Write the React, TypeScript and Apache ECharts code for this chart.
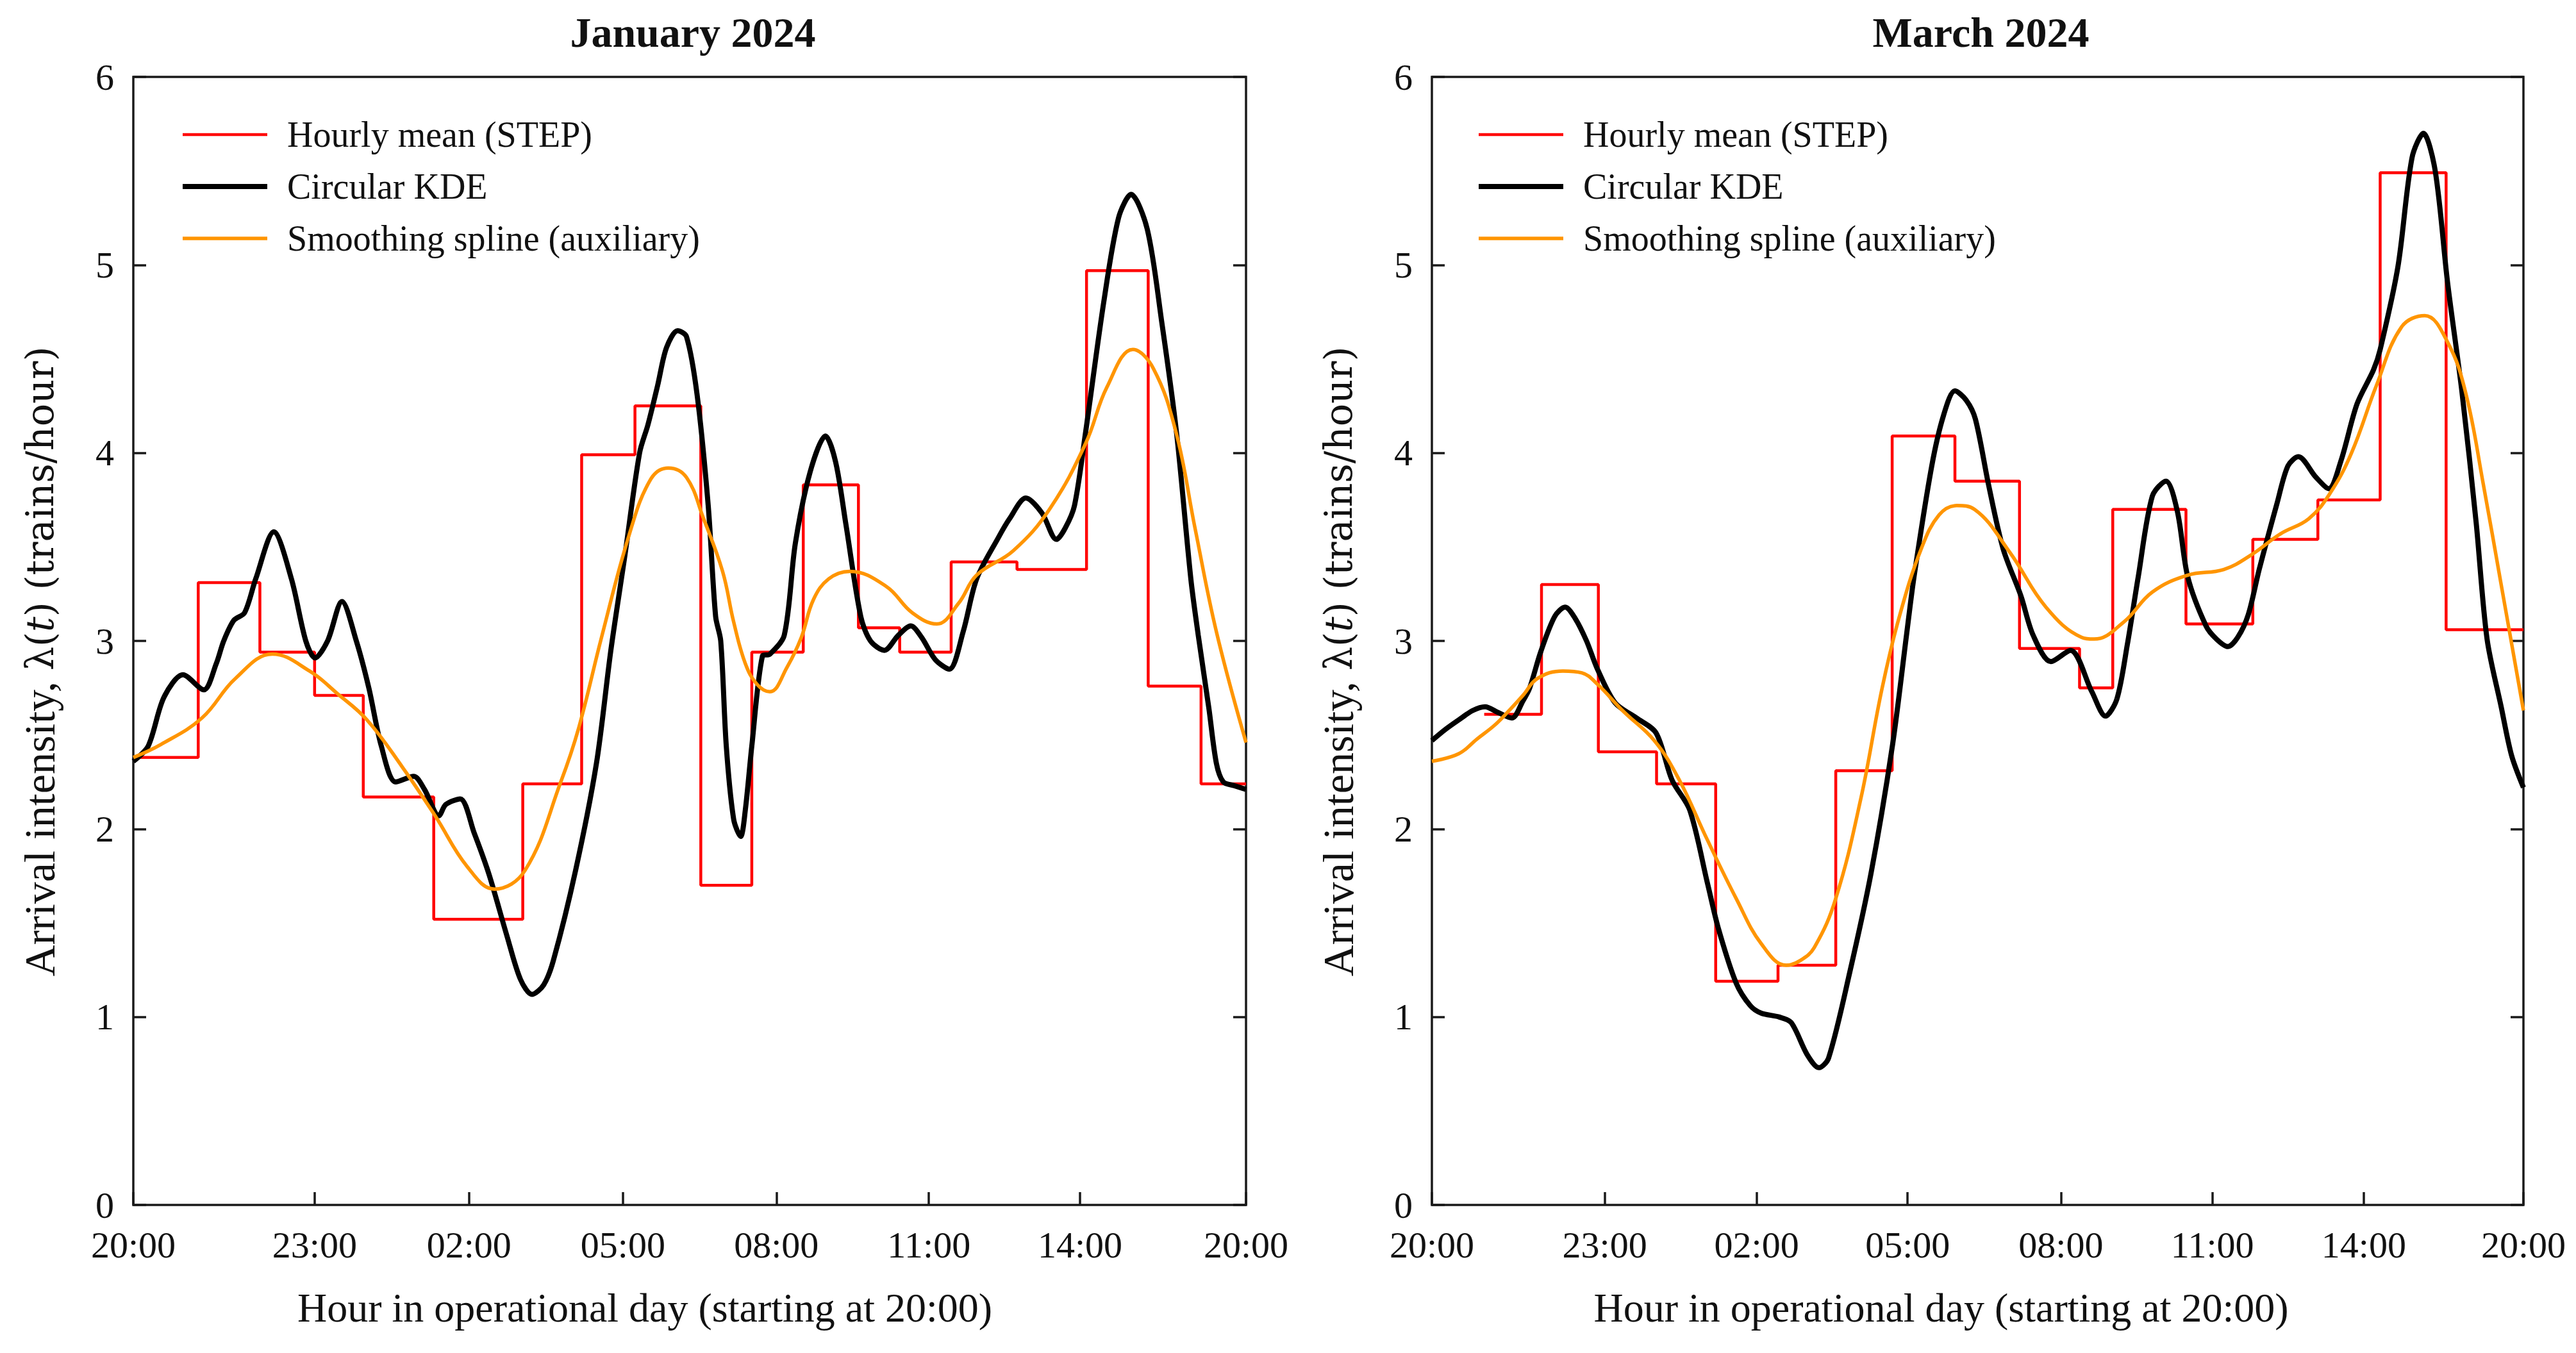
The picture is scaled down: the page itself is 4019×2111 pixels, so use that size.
import React, { useEffect, useRef } from 'react';
import * as echarts from 'echarts';

// ---------- data (hours since 20:00, arrival intensity in trains/hour) ----------
const tickLabels = ['20:00', '23:00', '02:00', '05:00', '08:00', '11:00', '14:00', '20:00'];
const janTickHours = [0, 3.91, 7.24, 10.56, 13.87, 17.16, 20.42, 24];
const marTickHours = [0, 3.8, 7.14, 10.46, 13.83, 17.16, 20.49, 24];

const janStepEdges = [0, 1.4, 2.73, 3.91, 4.96, 6.48, 8.4, 9.67, 10.82, 12.24, 13.34, 14.45, 15.64, 16.53, 17.64, 19.06, 20.56, 21.89, 23.03, 24];
const janStepValues = [2.38, 3.31, 2.94, 2.71, 2.17, 1.52, 2.24, 3.99, 4.25, 1.7, 2.94, 3.83, 3.07, 2.94, 3.42, 3.38, 4.97, 2.76, 2.24];

const janKdeHours = [0, 0.32, 0.66, 1.07, 1.52, 1.79, 1.95, 2.17, 2.4, 2.64, 3.03, 3.41, 3.72, 3.92, 4.19, 4.5, 4.81, 5.08, 5.35, 5.66, 6.05, 6.28, 6.59, 6.74, 7.05, 7.35, 7.67, 8.06, 8.35, 8.6, 8.85, 9.06, 9.54, 9.99, 10.3, 10.6, 10.92, 11.1, 11.31, 11.5, 11.74, 11.93, 12.16, 12.4, 12.56, 12.67, 12.79, 12.95, 13.1, 13.2, 13.34, 13.57, 13.73, 14.04, 14.28, 14.6, 14.93, 15.15, 15.37, 15.69, 15.9, 16.2, 16.5, 16.77, 17.0, 17.3, 17.6, 17.9, 18.19, 18.66, 18.9, 19.25, 19.6, 19.91, 20.1, 20.3, 20.54, 20.93, 21.25, 21.52, 21.87, 22.18, 22.5, 22.81, 22.97, 23.2, 23.36, 23.51, 23.75, 24];
const janKdeValues = [2.36, 2.44, 2.7, 2.82, 2.74, 2.88, 3.0, 3.11, 3.15, 3.33, 3.58, 3.33, 3.0, 2.91, 3.0, 3.21, 3.0, 2.75, 2.44, 2.25, 2.28, 2.21, 2.07, 2.13, 2.16, 1.98, 1.76, 1.43, 1.2, 1.12, 1.17, 1.3, 1.78, 2.35, 2.95, 3.45, 4.0, 4.15, 4.36, 4.56, 4.65, 4.62, 4.31, 3.72, 3.13, 3.0, 2.44, 2.05, 1.96, 2.1, 2.44, 2.92, 2.93, 3.03, 3.52, 3.9, 4.09, 3.95, 3.62, 3.13, 3.0, 2.95, 3.03, 3.08, 3.02, 2.9, 2.85, 3.05, 3.33, 3.55, 3.65, 3.76, 3.68, 3.54, 3.6, 3.72, 4.11, 4.8, 5.25, 5.375, 5.19, 4.7, 4.11, 3.33, 3.03, 2.64, 2.35, 2.25, 2.23, 2.21];

const janSplineHours = [0, 0.6, 1.48, 2.2, 3.0, 3.8, 4.4, 5.04, 5.8, 6.51, 7.2, 7.79, 8.45, 9.22, 9.61, 10.1, 10.69, 11.16, 11.54, 11.93, 12.3, 12.71, 12.95, 13.2, 13.45, 13.73, 14.1, 14.41, 14.67, 15.0, 15.45, 16.24, 16.8, 17.33, 17.8, 18.19, 18.98, 19.76, 20.54, 21.0, 21.56, 22.0, 22.49, 22.9, 23.36, 24];
const janSplineValues = [2.38, 2.45, 2.59, 2.8, 2.93, 2.84, 2.72, 2.58, 2.33, 2.07, 1.8, 1.68, 1.78, 2.25, 2.54, 3.02, 3.56, 3.86, 3.92, 3.87, 3.65, 3.37, 3.1, 2.88, 2.77, 2.73, 2.86, 3.02, 3.22, 3.33, 3.37, 3.29, 3.15, 3.09, 3.2, 3.35, 3.48, 3.7, 4.05, 4.35, 4.55, 4.45, 4.11, 3.6, 3.05, 2.46];

const marStepEdges = [1.15, 2.41, 3.66, 4.94, 6.24, 7.61, 8.88, 10.12, 11.5, 12.92, 14.24, 14.97, 16.58, 18.05, 19.48, 20.85, 22.3, 24];
const marStepValues = [2.61, 3.3, 2.41, 2.24, 1.19, 1.275, 2.31, 4.09, 3.85, 2.96, 2.75, 3.7, 3.09, 3.54, 3.75, 5.49, 3.06];

const marKdeHours = [0, 0.3, 0.59, 0.9, 1.17, 1.45, 1.76, 2.0, 2.15, 2.39, 2.7, 2.93, 3.15, 3.4, 3.64, 4.03, 4.5, 4.93, 5.28, 5.67, 6.06, 6.3, 6.69, 7.0, 7.24, 7.63, 7.9, 8.25, 8.51, 8.72, 9.19, 9.66, 10.13, 10.44, 10.6, 10.99, 11.25, 11.5, 11.75, 11.95, 12.24, 12.56, 12.95, 13.22, 13.61, 14.04, 14.51, 14.81, 15.06, 15.29, 15.53, 15.84, 16.14, 16.39, 16.62, 17.02, 17.25, 17.5, 17.72, 17.95, 18.19, 18.58, 18.82, 19.05, 19.44, 19.72, 19.99, 20.34, 20.7, 20.85, 21.24, 21.55, 21.8, 22.06, 22.33, 22.65, 22.96, 23.2, 23.51, 23.74, 24];
const marKdeValues = [2.47, 2.53, 2.58, 2.63, 2.65, 2.62, 2.59, 2.68, 2.75, 2.94, 3.13, 3.18, 3.12, 3.0, 2.85, 2.67, 2.59, 2.51, 2.26, 2.1, 1.71, 1.47, 1.18, 1.06, 1.02, 1.0, 0.97, 0.8, 0.73, 0.78, 1.24, 1.77, 2.45, 3.04, 3.34, 3.93, 4.2, 4.33, 4.28, 4.18, 3.83, 3.49, 3.24, 3.03, 2.89, 2.95, 2.73, 2.6, 2.69, 2.98, 3.34, 3.77, 3.85, 3.69, 3.34, 3.08, 3.01, 2.97, 3.02, 3.14, 3.38, 3.73, 3.93, 3.98, 3.87, 3.81, 3.96, 4.26, 4.44, 4.55, 4.99, 5.57, 5.7, 5.5, 4.91, 4.32, 3.63, 3.01, 2.65, 2.39, 2.22];

const marSplineHours = [0, 0.59, 1.0, 1.37, 1.66, 2.0, 2.32, 2.88, 3.3, 3.64, 4.19, 4.89, 5.44, 6.06, 6.69, 7.24, 7.79, 8.1, 8.41, 8.88, 9.43, 9.9, 10.29, 10.76, 11.15, 11.54, 11.93, 12.71, 13.5, 14.28, 14.56, 15.21, 15.84, 16.62, 17.41, 18.03, 18.66, 19.28, 19.76, 20.22, 20.77, 21.32, 21.83, 22.33, 22.73, 23.12, 23.51, 24];
const marSplineValues = [2.36, 2.4, 2.48, 2.55, 2.62, 2.71, 2.8, 2.84, 2.83, 2.77, 2.63, 2.47, 2.26, 1.94, 1.63, 1.39, 1.275, 1.3, 1.37, 1.63, 2.16, 2.75, 3.14, 3.49, 3.67, 3.72, 3.7, 3.47, 3.18, 3.02, 3.01, 3.1, 3.26, 3.35, 3.38, 3.46, 3.57, 3.65, 3.79, 4.0, 4.36, 4.67, 4.73, 4.59, 4.32, 3.83, 3.3, 2.63];

const panelTitles = ['January 2024', 'March 2024'];
const seriesNames = ['Hourly mean (STEP)', 'Circular KDE', 'Smoothing spline (auxiliary)'];

// ---------- helpers ----------
const zip = (xs: number[], ys: number[]) => xs.map((x, i) => [x, ys[i]]);
const stepData = (edges: number[], values: number[]) =>
  edges.map((e, i) => [e, values[Math.min(i, values.length - 1)]]);

const SERIF = "'Liberation Serif', 'Times New Roman', serif";
const TEXT = '#111';
const FRAME = '#1a1a1a';
const COLORS = ['#ff0000', '#000000', '#ff9500'];
const WIDTHS = [4.5, 8, 5.5];

const GRIDS = [
  { left: 208, top: 120, width: 1736, height: 1760 },
  { left: 2234, top: 120, width: 1703, height: 1760 },
];

function buildOption() {
  const ticksPerPanel = [janTickHours, marTickHours];
  const namePad = [140, 114];
  const legendLeft = [276, 2298];

  const grid = GRIDS.map((g) => ({
    ...g,
    show: true,
    borderColor: FRAME,
    borderWidth: 3.5,
    backgroundColor: 'transparent',
  }));

  const title = GRIDS.map((g, i) => ({
    text: panelTitles[i],
    left: g.left + g.width / 2,
    textAlign: 'center',
    top: 12,
    textStyle: { fontFamily: SERIF, fontWeight: 'bold', fontSize: 66, color: TEXT },
  }));

  const legend = legendLeft.map((l) => ({
    orient: 'vertical',
    left: l,
    top: 175,
    itemWidth: 132,
    itemHeight: 20,
    itemGap: 21,
    selectedMode: false,
    itemStyle: { opacity: 0, borderWidth: 0 },
    data: seriesNames.map((n, k) => ({
      name: n,
      itemStyle: { opacity: 0, borderWidth: 0 },
      lineStyle: { color: COLORS[k], width: WIDTHS[k], opacity: 1 },
    })),
    textStyle: { fontFamily: SERIF, fontSize: 56, color: TEXT, lineHeight: 60, padding: [0, 0, 0, 26] },
  }));

  const xAxis = ticksPerPanel.map((ticks, i) => ({
    type: 'value',
    gridIndex: i,
    min: 0,
    max: 24,
    axisLine: { show: false },
    axisTick: {
      show: true,
      inside: true,
      length: 20,
      customValues: ticks,
      lineStyle: { color: FRAME, width: 3.5 },
    },
    axisLabel: {
      customValues: ticks,
      formatter: (v: number) => {
        const k = ticks.findIndex((t) => Math.abs(t - v) < 1e-6);
        return k >= 0 ? tickLabels[k] : '';
      },
      fontFamily: SERIF,
      fontSize: 58,
      lineHeight: 48,
      color: TEXT,
      margin: 38,
    },
    splitLine: { show: false },
    name: 'Hour in operational day (starting at 20:00)',
    nameLocation: 'middle',
    nameGap: 128,
    nameTextStyle: { fontFamily: SERIF, fontSize: 64, color: TEXT, padding: [0, namePad[i], 0, 0] },
  }));

  const yAxis: any[] = [];
  GRIDS.forEach((_, i) => {
    yAxis.push({
      type: 'value',
      gridIndex: i,
      position: 'left',
      min: 0,
      max: 6,
      interval: 1,
      axisLine: { show: false },
      axisTick: { show: true, inside: true, length: 20, lineStyle: { color: FRAME, width: 3.5 } },
      axisLabel: { fontFamily: SERIF, fontSize: 58, lineHeight: 44, color: TEXT, margin: 30 },
      splitLine: { show: false },
      name: '{a|Arrival intensity, }{b|λ(}{c|t}{b|) (trains/hour)}',
      nameLocation: 'middle',
      nameRotate: 90,
      nameGap: 112,
      nameTextStyle: {
        color: TEXT,
        padding: [0, 64, 0, 0],
        rich: {
          a: { fontFamily: SERIF, fontSize: 68, color: TEXT },
          b: { fontFamily: "'DejaVu Serif', serif", fontSize: 59, color: TEXT },
          c: { fontFamily: "'DejaVu Serif', serif", fontSize: 59, fontStyle: 'italic', color: TEXT },
        },
      },
    });
    yAxis.push({
      type: 'value',
      gridIndex: i,
      position: 'right',
      min: 0,
      max: 6,
      interval: 1,
      axisLine: { show: false },
      axisTick: { show: true, inside: true, length: 20, lineStyle: { color: FRAME, width: 3.5 } },
      axisLabel: { show: false },
      splitLine: { show: false },
    });
  });

  const panels = [
    { step: stepData(janStepEdges, janStepValues), kde: zip(janKdeHours, janKdeValues), spline: zip(janSplineHours, janSplineValues) },
    { step: stepData(marStepEdges, marStepValues), kde: zip(marKdeHours, marKdeValues), spline: zip(marSplineHours, marSplineValues) },
  ];

  const series: any[] = [];
  panels.forEach((p, i) => {
    const common = { type: 'line', xAxisIndex: i, yAxisIndex: i * 2, symbol: 'none', showSymbol: false, silent: true };
    series.push({
      ...common,
      name: seriesNames[0],
      data: p.step,
      step: 'end',
      color: COLORS[0],
      lineStyle: { color: COLORS[0], width: WIDTHS[0] },
      z: 2,
    });
    series.push({
      ...common,
      name: seriesNames[1],
      data: p.kde,
      smooth: 0.3,
      color: COLORS[1],
      lineStyle: { color: COLORS[1], width: WIDTHS[1] },
      z: 3,
    });
    series.push({
      ...common,
      name: seriesNames[2],
      data: p.spline,
      smooth: 0.4,
      color: COLORS[2],
      lineStyle: { color: COLORS[2], width: WIDTHS[2] },
      z: 4,
    });
  });

  return {
    animation: false,
    backgroundColor: '#ffffff',
    title,
    legend,
    grid,
    xAxis,
    yAxis,
    series,
  };
}

export default function App() {
  const ref = useRef<HTMLDivElement>(null);
  useEffect(() => {
    if (!ref.current) return;
    const chart = echarts.init(ref.current, undefined, { renderer: 'svg' });
    chart.setOption(buildOption() as any);
    return () => chart.dispose();
  }, []);
  return (
    <div
      ref={ref}
      style={{ position: 'fixed', left: 0, top: 0, width: '4019px', height: '2111px', background: '#fff' }}
    />
  );
}
